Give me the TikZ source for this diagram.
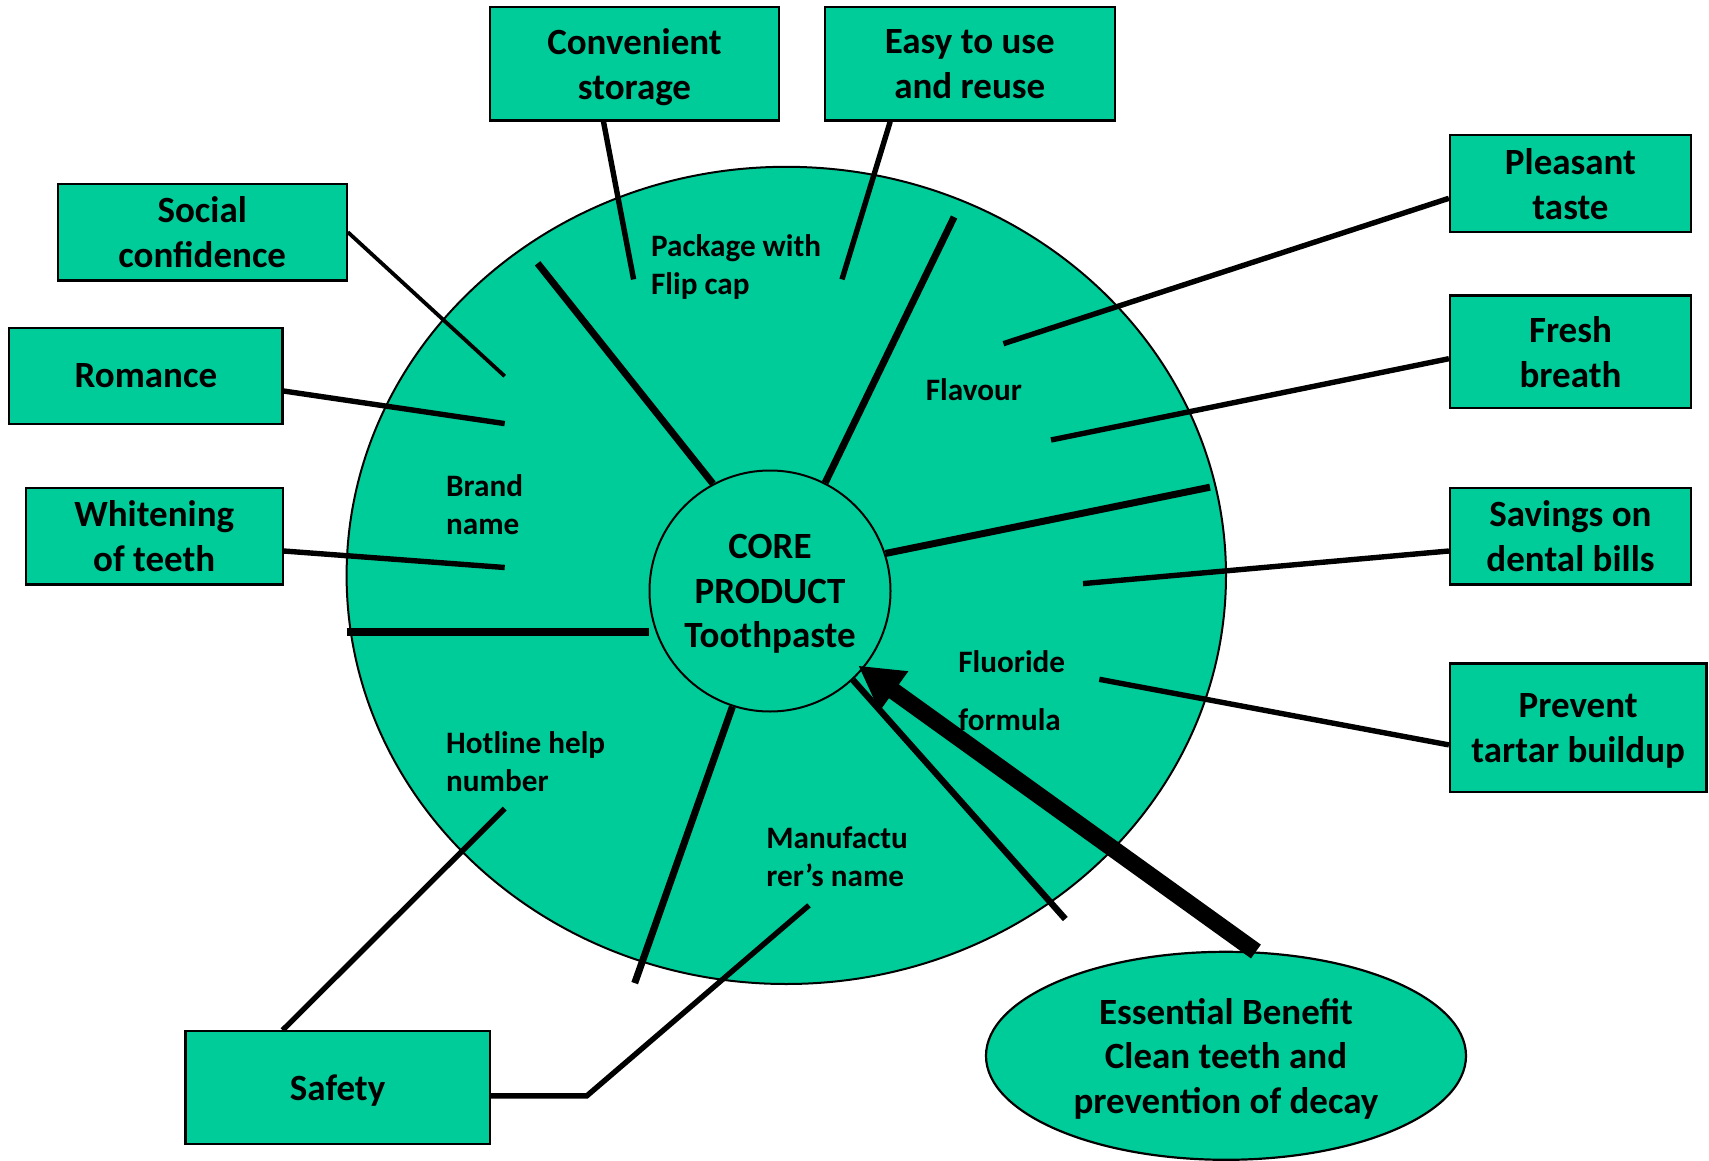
\documentclass[tikz,border=0pt]{standalone}
\usepackage{fontspec}
\setmainfont{Carlito}
\usetikzlibrary{shapes.geometric,arrows.meta}
\definecolor{mint}{RGB}{0,204,153}
\newcommand{\bigtxt}{\fontsize{18.5}{22.4}\selectfont\bfseries}
\newcommand{\smalltxt}{\fontsize{15.6}{19}\selectfont\bfseries}

\begin{document}
\begin{tikzpicture}[x=0.5pt,y=-0.5pt,
  box/.style={draw=black,line width=1.1pt,fill=mint,align=center,inner sep=0pt,
              text depth=-0.5pt,font=\bigtxt},
  lab/.style={align=left,inner sep=0pt,text depth=0pt,font=\smalltxt,anchor=west},
  spoke/.style={line width=3.5pt},
  link/.style={line width=2.7pt}]

% canvas
\fill[white] (0,0) rectangle (1709,1161);
\useasboundingbox (0,0) rectangle (1709,1161);

% product layers
\node[draw=black,line width=1pt,fill=mint,ellipse,inner sep=0pt,
      minimum width=439.7pt,minimum height=408.6pt] (outer) at (786.3,575.4) {};
\node[draw=black,line width=1pt,fill=mint,circle,inner sep=0pt,text depth=-0.5pt,
      minimum size=120.5pt,align=center,font=\bigtxt] (core) at (770,591) {CORE\\PRODUCT\\Toothpaste};

% free ends of spokes and links
\coordinate (spA) at (537.6,263.3);
\coordinate (spB) at (954.1,217);
\coordinate (spC) at (1210,487.2);
\coordinate (spW) at (346.7,631.9);
\coordinate (spD) at (634.7,983.1);
\coordinate (spE) at (1065.3,919);
\coordinate (pkgEnd) at (633.6,279.4);
\coordinate (easyEnd) at (842,279.4);
\coordinate (socEnd) at (504.7,376.2);
\coordinate (romEnd) at (504.7,423.6);
\coordinate (whiEnd) at (504.7,567.5);
\coordinate (pleEnd) at (1003.4,343.7);
\coordinate (freEnd) at (1051,440);
\coordinate (savEnd) at (1083,583.6);
\coordinate (preEnd) at (1099.3,679.3);
\coordinate (hotEnd) at (504.7,808.6);
\coordinate (manEnd) at (809,905.3);

% spokes dividing the augmented layer
\draw[spoke] (core.118) -- (spA);
\draw[spoke] (core.63) -- (spB);
\draw[spoke] (core.18) -- (spC);
\draw[line width=4pt] (spW) -- (spW -| core.west);
\draw[spoke] (core.252) -- (spD);
\draw[line width=3.2pt] (core.-47) -- (spE);

% labels inside the layers
\node[lab] (pkg) at (650.7,265) {Package with\\Flip cap};
\node[lab] (brand) at (445.8,505) {Brand\\name};
\node[lab] (hot) at (445.8,761.3) {Hotline help\\number};
\node[lab] (man) at (766,857) {Manufactu\\rer’s name};
\node[lab] (flav) at (925.4,390) {Flavour};
\node[lab] (fluor) at (958,690.5) {Fluoride\\[10pt]formula};

% benefit boxes
\node[box,minimum width=144.5pt,minimum height=56.75pt] (conv) at (634.5,63.8) {Convenient\\storage};
\node[box,minimum width=144.8pt,minimum height=56.75pt] (easy) at (969.8,63.8) {Easy to use\\and reuse};
\node[box,minimum width=144.5pt,minimum height=48.4pt] (soc) at (202.2,232.1) {Social\\confidence};
\node[box,minimum width=136.6pt,minimum height=48.2pt] (rom) at (145.9,375.8) {Romance};
\node[box,minimum width=128.4pt,minimum height=48.2pt] (whi) at (154.2,536.2) {Whitening\\of teeth};
\node[box,minimum width=120.5pt,minimum height=48.6pt] (ple) at (1570.5,183.7) {Pleasant\\taste};
\node[box,minimum width=120.5pt,minimum height=56.4pt] (fre) at (1570.5,351.9) {Fresh\\breath};
\node[box,minimum width=120.5pt,minimum height=48.2pt] (sav) at (1570.5,536.2) {Savings on\\dental bills};
\node[box,minimum width=128.2pt,minimum height=64.4pt] (pre) at (1578.2,727.9) {Prevent\\tartar buildup};
\node[box,minimum width=152.2pt,minimum height=56.5pt] (saf) at (337.6,1087.8) {Safety};

% core benefit
\node[draw=black,line width=1.1pt,fill=mint,ellipse,inner sep=0pt,align=center,font=\bigtxt,
      text depth=-0.5pt,minimum width=240pt,minimum height=104pt] (ess) at (1226,1055.8)
      {Essential Benefit\\Clean teeth and\\prevention of decay};

% links from benefits to features
\draw[link] ([xshift=-15.5pt]conv.south) -- (pkgEnd);
\draw[link] ([xshift=-39.8pt]easy.south) -- (easyEnd);
\draw[link,line width=1.9pt] (soc.east) -- (socEnd);
\draw[link] ([yshift=-7.6pt]rom.east) -- (romEnd);
\draw[link] ([yshift=-7.4pt]whi.east) -- (whiEnd);
\draw[link] ([yshift=-7.3pt]ple.west) -- (pleEnd);
\draw[link] ([yshift=-3.4pt]fre.west) -- (freEnd);
\draw[link] ([yshift=-7.4pt]sav.west) -- (savEnd);
\draw[link] ([yshift=-8.5pt]pre.west) -- (preEnd);
\draw[link] ([xshift=-27.5pt]saf.north) -- (hotEnd);
\draw[link] ([yshift=-4pt]saf.east) -- ++(96,0) -- (manEnd);

% arrow from the essential benefit to the core
\draw[line width=8.5pt,shorten >=-3pt,-{Triangle[length=22pt,width=23pt]}] (ess.74) -- (core.-40);
\end{tikzpicture}
\end{document}
